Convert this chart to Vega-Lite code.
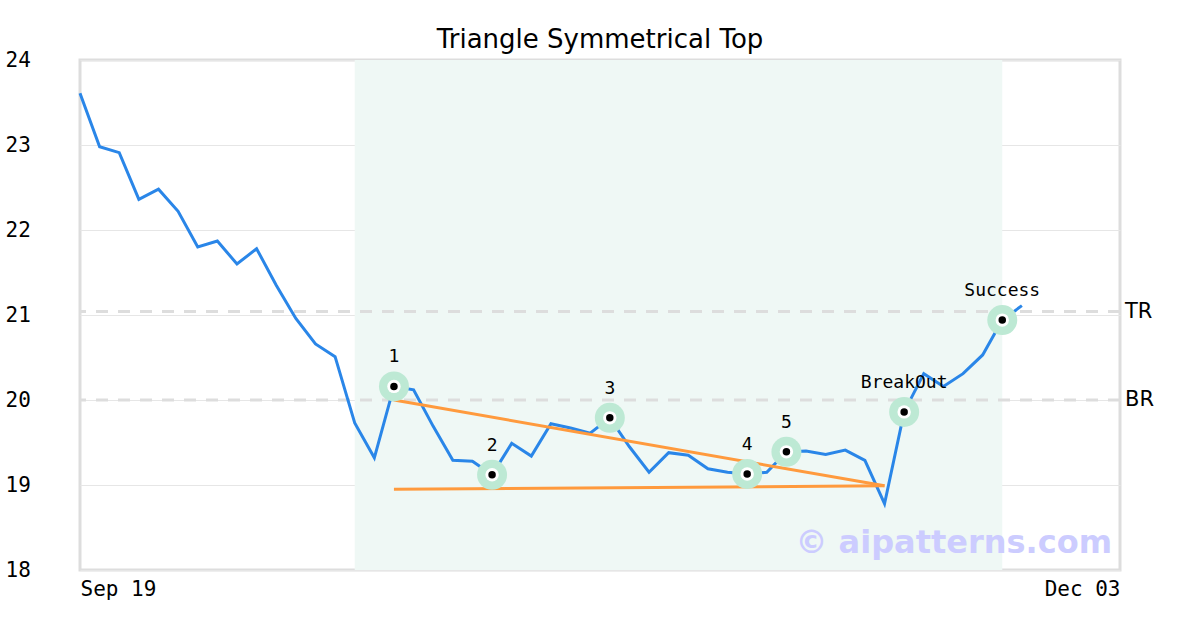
{
  "$schema": "https://vega.github.io/schema/vega-lite/v6.json",
  "autosize": "none",
  "width": 1040,
  "height": 510,
  "padding": {"left": 80, "top": 60, "right": 80, "bottom": 60},
  "background": "white",
  "title": {"text": "Triangle Symmetrical Top", "font": "DejaVu Sans", "fontSize": 26, "fontWeight": "normal", "color": "#000", "offset": -4},
  "config": {
    "view": {"stroke": "#dddddd", "strokeWidth": 3},
    "axis": {"domain": false, "ticks": false, "labelFont": "DejaVu Sans Mono", "labelFontSize": 21, "labelColor": "#000"}
  },
  "datasets": {
    "price": [
      {"i": 0, "v": 23.61}, {"i": 1, "v": 22.98}, {"i": 2, "v": 22.91}, {"i": 3, "v": 22.36},
      {"i": 4, "v": 22.48}, {"i": 5, "v": 22.22}, {"i": 6, "v": 21.8}, {"i": 7, "v": 21.87},
      {"i": 8, "v": 21.6}, {"i": 9, "v": 21.78}, {"i": 10, "v": 21.35}, {"i": 11, "v": 20.96},
      {"i": 12, "v": 20.66}, {"i": 13, "v": 20.51}, {"i": 14, "v": 19.73}, {"i": 15, "v": 19.32},
      {"i": 16, "v": 20.16}, {"i": 17, "v": 20.12}, {"i": 18, "v": 19.69}, {"i": 19, "v": 19.29},
      {"i": 20, "v": 19.28}, {"i": 21, "v": 19.12}, {"i": 22, "v": 19.49}, {"i": 23, "v": 19.34},
      {"i": 24, "v": 19.72}, {"i": 25, "v": 19.67}, {"i": 26, "v": 19.61}, {"i": 27, "v": 19.79},
      {"i": 28, "v": 19.45}, {"i": 29, "v": 19.15}, {"i": 30, "v": 19.38}, {"i": 31, "v": 19.35},
      {"i": 32, "v": 19.19}, {"i": 33, "v": 19.15}, {"i": 34, "v": 19.13}, {"i": 35, "v": 19.15},
      {"i": 36, "v": 19.39}, {"i": 37, "v": 19.4}, {"i": 38, "v": 19.36}, {"i": 39, "v": 19.41},
      {"i": 40, "v": 19.29}, {"i": 41, "v": 18.78}, {"i": 42, "v": 19.86}, {"i": 43, "v": 20.31},
      {"i": 44, "v": 20.16}, {"i": 45, "v": 20.31}, {"i": 46, "v": 20.53}, {"i": 47, "v": 20.94},
      {"i": 48, "v": 21.11}
    ],
    "marks": [
      {"i": 16, "v": 20.16, "label": "1"},
      {"i": 21, "v": 19.12, "label": "2"},
      {"i": 27, "v": 19.79, "label": "3"},
      {"i": 34, "v": 19.13, "label": "4"},
      {"i": 36, "v": 19.39, "label": "5"},
      {"i": 42, "v": 19.86, "label": "BreakOut"},
      {"i": 47, "v": 20.94, "label": "Success"}
    ],
    "trend": [
      {"line": "upper", "i": 16, "v": 20.0},
      {"line": "upper", "i": 41, "v": 18.99},
      {"line": "lower", "i": 16, "v": 18.95},
      {"line": "lower", "i": 41, "v": 18.99}
    ],
    "levels": [
      {"name": "TR", "v": 21.04},
      {"name": "BR", "v": 20.0}
    ],
    "band": [{"start": 14, "end": 47}]
  },
  "layer": [
    {
      "data": {"name": "band"},
      "mark": {"type": "rect", "color": "#eff8f5"},
      "encoding": {
        "x": {"field": "start", "type": "quantitative", "scale": {"domain": [0, 53], "nice": false, "zero": false},
              "axis": {"values": [0, 53], "labelExpr": "datum.value == 0 ? 'Sep 19' : 'Dec 03'", "labelFlush": true, "grid": false, "title": null, "labelPadding": 8}},
        "x2": {"field": "end"},
        "y": {"datum": 18, "type": "quantitative", "scale": {"domain": [18, 24], "nice": false, "zero": false},
              "axis": {"values": [18, 19, 20, 21, 22, 23, 24], "format": "d", "grid": true, "gridColor": "#e6e6e6", "gridWidth": 1, "title": null, "labelAlign": "left", "labelPadding": 75, "labelBaseline": "middle"}},
        "y2": {"datum": 24}
      }
    },
    {
      "data": {"name": "levels"},
      "mark": {"type": "rule", "color": "#dddddd", "strokeWidth": 3, "strokeDash": [12, 10]},
      "encoding": {"y": {"field": "v", "type": "quantitative"}}
    },
    {
      "data": {"name": "levels"},
      "mark": {"type": "text", "align": "left", "baseline": "middle", "dx": 5, "font": "DejaVu Sans", "fontSize": 21, "color": "#000"},
      "encoding": {"x": {"datum": 53, "type": "quantitative"}, "y": {"field": "v", "type": "quantitative"}, "text": {"field": "name"}}
    },
    {
      "data": {"name": "price"},
      "mark": {"type": "line", "color": "#2a86e8", "strokeWidth": 3},
      "encoding": {"x": {"field": "i", "type": "quantitative"}, "y": {"field": "v", "type": "quantitative"}}
    },
    {
      "data": {"name": "trend"},
      "mark": {"type": "line", "color": "#ff9a3d", "strokeWidth": 3},
      "encoding": {"x": {"field": "i", "type": "quantitative"}, "y": {"field": "v", "type": "quantitative"}, "detail": {"field": "line"}}
    },
    {
      "data": {"name": "marks"},
      "mark": {"type": "circle", "color": "#bde9d4", "opacity": 1, "size": 900},
      "encoding": {"x": {"field": "i", "type": "quantitative"}, "y": {"field": "v", "type": "quantitative"}}
    },
    {
      "data": {"name": "marks"},
      "mark": {"type": "circle", "color": "#ffffff", "opacity": 1, "size": 180},
      "encoding": {"x": {"field": "i", "type": "quantitative"}, "y": {"field": "v", "type": "quantitative"}}
    },
    {
      "data": {"name": "marks"},
      "mark": {"type": "circle", "color": "#000000", "opacity": 1, "size": 56},
      "encoding": {"x": {"field": "i", "type": "quantitative"}, "y": {"field": "v", "type": "quantitative"}}
    },
    {
      "data": {"name": "marks"},
      "mark": {"type": "text", "align": "center", "baseline": "middle", "dy": -29, "font": "DejaVu Sans Mono", "fontSize": 18, "color": "#000"},
      "encoding": {"x": {"field": "i", "type": "quantitative"}, "y": {"field": "v", "type": "quantitative"}, "text": {"field": "label"}}
    },
    {
      "data": {"values": [{"t": "© aipatterns.com"}]},
      "mark": {"type": "text", "align": "right", "baseline": "middle", "dx": -8, "dy": -27, "font": "DejaVu Sans", "fontWeight": "bold", "fontSize": 32, "color": "#ccccff"},
      "encoding": {"x": {"datum": 53, "type": "quantitative"}, "y": {"datum": 18, "type": "quantitative"}, "text": {"field": "t"}}
    }
  ]
}
